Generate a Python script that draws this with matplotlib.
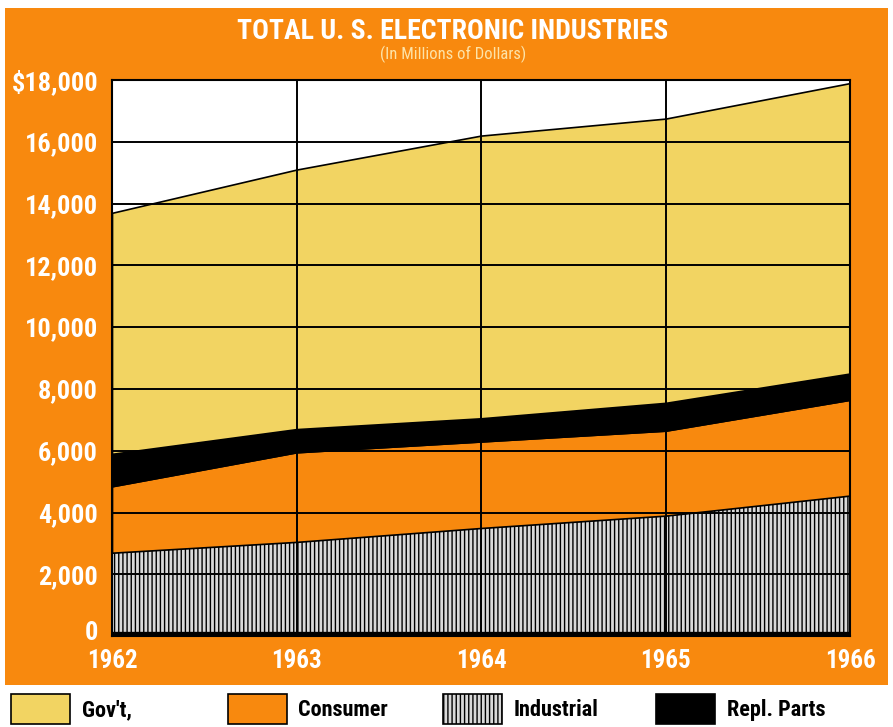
import matplotlib
matplotlib.use("Agg")
import matplotlib.pyplot as plt
import matplotlib.transforms as mtransforms
from matplotlib.patches import Rectangle
from matplotlib import font_manager

years = [1962, 1963, 1964, 1965, 1966]
industrial = [2700, 3050, 3500, 3900, 4550]
consumer = [2150, 2900, 2800, 2750, 3100]
repl_parts = [1050, 750, 750, 900, 850]
govt = [7800, 8400, 9150, 9200, 9400]

yticks = list(range(0, 18001, 2000))
ylabels = ["0", "2,000", "4,000", "6,000", "8,000", "10,000", "12,000",
           "14,000", "16,000", "$18,000"]

ORANGE = "#f8890e"
YELLOW = "#f2d462"
GREY = "#d9d9d9"

# pick a narrow face if one is around, otherwise a plain sans at a smaller size
installed = {f.name for f in font_manager.fontManager.ttflist}
narrow = None
for cand in ["Liberation Sans Narrow", "DejaVu Sans Condensed", "Roboto Condensed"]:
    if cand in installed:
        narrow = cand
        break
if narrow:
    FONT = [narrow, "DejaVu Sans"]
    scale = 1.0
else:
    FONT = ["Liberation Sans", "DejaVu Sans"]
    scale = 0.86

plt.rcParams["hatch.linewidth"] = 1.0
plt.rcParams["hatch.color"] = "#4a4a4a"

fig = plt.figure(figsize=(8.93, 7.27), dpi=100)
fig.patch.set_facecolor("white")
fig.patches.append(Rectangle((0.006, 0.058), 0.988, 0.931, transform=fig.transFigure,
                             facecolor=ORANGE, edgecolor="none", zorder=-10))

ax = fig.add_axes([0.1254, 0.125, 0.8266, 0.765])
ax.set_zorder(2)
ax.set_facecolor("white")

polys = ax.stackplot(years, industrial, consumer, repl_parts, govt,
                     colors=[GREY, ORANGE, "black", YELLOW],
                     edgecolor="black", linewidth=1.2, zorder=1)
polys[0].set_hatch("||||")

for y in yticks[1:]:
    ax.axhline(y, color="black", lw=1.4, zorder=3)
for x in years:
    ax.axvline(x, color="black", lw=1.4, zorder=3)
ax.axhline(0, color="black", lw=6, zorder=4)

ax.set_xlim(years[0], years[-1])
ax.set_ylim(0, 18000)
ax.set_yticks(yticks)
ax.set_yticklabels(ylabels)
ax.set_xticks(years)
ax.set_xticklabels([str(y) for y in years])
ax.tick_params(length=0, colors="white")
ax.tick_params(axis="y", pad=10)
ax.tick_params(axis="x", pad=9)
for lab in ax.get_yticklabels():
    lab.set_family(FONT)
    lab.set_fontweight("bold")
    lab.set_fontsize(19 * scale)
for lab in ax.get_xticklabels():
    lab.set_family(FONT)
    lab.set_fontweight("bold")
    lab.set_fontsize(18 * scale)
# nudge the "0" up a touch so it clears "1962"
zero = ax.get_yticklabels()[0]
zero.set_transform(zero.get_transform() +
                   mtransforms.ScaledTranslation(0, 4 / 72, fig.dpi_scale_trans))
for s in ax.spines.values():
    s.set_color("black")
    s.set_linewidth(1.5)
    s.set_zorder(5)

fig.text(0.507, 0.956, "TOTAL U. S. ELECTRONIC INDUSTRIES", ha="center", va="center",
         color="white", fontsize=20 * scale, fontweight="bold", family=FONT)
fig.text(0.507, 0.925, "(In Millions of Dollars)", ha="center", va="center",
         color="#fde3a8", fontsize=12 * scale, family=FONT)

legend_items = [("Gov't,", YELLOW, None, 0.0123),
                ("Consumer", ORANGE, None, 0.255),
                ("Industrial", GREY, "||||", 0.496),
                ("Repl. Parts", "black", None, 0.735)]
for label, color, hatch, x0 in legend_items:
    fig.patches.append(Rectangle((x0, 0.004), 0.066, 0.041, transform=fig.transFigure,
                                 facecolor=color, edgecolor="black", lw=1.2,
                                 hatch=hatch))
    fig.text(x0 + 0.079, 0.023, label, ha="left", va="center", color="black",
             fontsize=16 * scale, fontweight="bold", family=FONT)

fig.savefig("out.png", dpi=100, facecolor="white")
